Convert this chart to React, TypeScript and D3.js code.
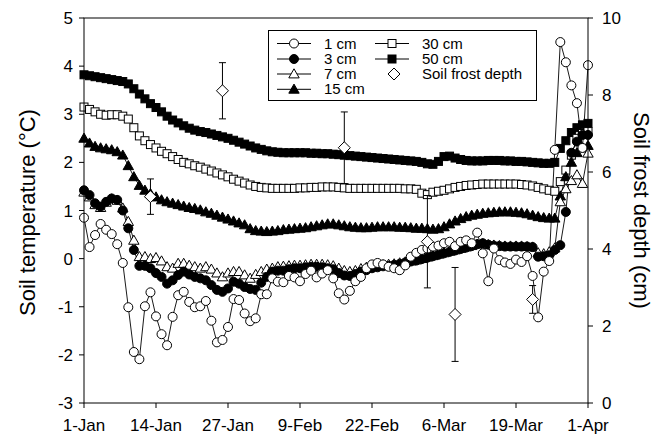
import React from "react";
import * as d3 from "d3";

// ---- data (daily values, day 0 = 1-Jan) ----
const tickLabels = ["1-Jan", "14-Jan", "27-Jan", "9-Feb", "22-Feb", "6-Mar", "19-Mar", "1-Apr"];
const tickDays = [0, 13, 26, 39, 52, 65, 78, 91];
const leftTicks = [-3, -2, -1, 0, 1, 2, 3, 4, 5];
const rightTicks = [0, 2, 4, 6, 8, 10];

const t1cm = [0.85,0.24,0.49,0.72,0.60,0.51,0.30,-0.09,-1.01,-1.94,
-2.09,-0.99,-0.70,-1.20,-1.57,-1.80,-1.21,-0.76,-0.69,-0.90,
-1.01,-0.99,-0.88,-1.29,-1.74,-1.69,-1.42,-0.84,-0.86,-1.14,
-1.30,-1.24,-0.74,-0.74,-0.41,-0.48,-0.49,-0.36,-0.39,-0.47,
-0.32,-0.25,-0.39,-0.31,-0.24,-0.41,-0.72,-0.85,-0.67,-0.47,
-0.38,-0.20,-0.12,-0.09,-0.12,-0.17,-0.20,-0.24,-0.14,0.04,
0.12,0.18,0.21,0.25,0.27,0.32,0.35,0.26,0.35,0.38,
0.32,0.54,0.11,-0.47,0.21,-0.03,-0.08,-0.11,-0.02,-0.07,
0.05,-0.36,-1.22,-0.27,-0.05,2.26,4.50,4.08,3.60,3.23,
2.30,4.02];

const t3cm = [1.42,1.32,1.15,1.08,1.18,1.25,1.22,1.00,0.63,0.18,
-0.15,-0.15,-0.20,-0.30,-0.38,-0.52,-0.45,-0.34,-0.27,-0.33,
-0.38,-0.41,-0.45,-0.55,-0.65,-0.69,-0.62,-0.48,-0.52,-0.59,
-0.63,-0.65,-0.50,-0.38,-0.27,-0.25,-0.25,-0.22,-0.20,-0.20,
-0.18,-0.17,-0.17,-0.18,-0.20,-0.22,-0.30,-0.35,-0.36,-0.32,
-0.27,-0.24,-0.20,-0.18,-0.16,-0.15,-0.13,-0.11,-0.08,-0.06,
-0.04,-0.01,0.02,0.05,0.08,0.11,0.14,0.17,0.20,0.23,
0.26,0.30,0.32,0.29,0.27,0.26,0.25,0.25,0.25,0.25,
0.25,0.24,0.04,0.05,0.07,0.18,0.28,0.97,2.20,2.43,
2.57,2.57];

const t7cm = [1.38,1.28,1.12,1.06,1.17,1.24,1.21,1.05,0.77,0.38,
0.04,0.04,0.00,0.02,-0.05,-0.17,-0.20,-0.10,-0.10,-0.14,
-0.17,-0.20,-0.17,-0.22,-0.30,-0.38,-0.30,-0.27,-0.27,-0.34,
-0.41,-0.33,-0.27,-0.22,-0.20,-0.17,-0.16,-0.15,-0.14,-0.14,
-0.13,-0.12,-0.12,-0.12,-0.13,-0.15,-0.20,-0.25,-0.27,-0.25,
-0.21,-0.18,-0.15,-0.14,-0.13,-0.12,-0.11,-0.09,-0.07,-0.05,
-0.03,0.00,0.03,0.06,0.09,0.12,0.15,0.18,0.21,0.24,
0.27,0.30,0.31,0.29,0.28,0.27,0.26,0.26,0.26,0.26,
0.25,0.24,0.12,0.10,0.14,0.22,1.18,1.45,1.62,1.74,
1.56,2.19];

const t15cm = [2.50,2.40,2.33,2.30,2.28,2.26,2.22,2.15,1.93,1.70,
1.52,1.42,1.35,1.28,1.22,1.18,1.15,1.12,1.09,1.06,
1.04,1.01,0.97,0.94,0.90,0.86,0.82,0.78,0.74,0.70,
0.62,0.58,0.57,0.56,0.57,0.58,0.60,0.61,0.62,0.63,
0.64,0.66,0.68,0.70,0.72,0.72,0.70,0.68,0.66,0.65,
0.64,0.64,0.65,0.66,0.66,0.66,0.66,0.65,0.65,0.64,
0.63,0.63,0.62,0.61,0.62,0.66,0.72,0.78,0.83,0.87,
0.90,0.92,0.94,0.95,0.96,0.97,0.97,0.97,0.96,0.95,
0.93,0.90,0.87,0.85,0.84,0.84,1.30,1.70,2.00,2.20,
2.30,2.35];

const t30cm = [3.15,3.10,3.05,3.00,2.98,2.99,2.99,2.96,2.90,2.72,
2.55,2.45,2.37,2.30,2.23,2.18,2.12,2.06,2.00,1.97,
1.93,1.90,1.86,1.82,1.78,1.74,1.70,1.65,1.61,1.57,
1.53,1.50,1.48,1.47,1.46,1.46,1.46,1.46,1.46,1.47,
1.47,1.48,1.48,1.49,1.49,1.49,1.48,1.47,1.46,1.46,
1.46,1.46,1.46,1.46,1.46,1.46,1.46,1.46,1.45,1.45,
1.44,1.36,1.33,1.38,1.40,1.42,1.45,1.48,1.50,1.52,
1.53,1.54,1.55,1.55,1.55,1.55,1.55,1.55,1.55,1.54,
1.53,1.51,1.48,1.45,1.42,1.40,1.60,1.84,2.15,2.50,
2.60,2.64];

const t50cm = [3.82,3.80,3.78,3.76,3.74,3.72,3.70,3.68,3.63,3.53,
3.42,3.32,3.22,3.14,3.05,2.96,2.88,2.82,2.76,2.71,
2.67,2.64,2.62,2.59,2.56,2.53,2.50,2.46,2.42,2.38,
2.34,2.30,2.27,2.24,2.22,2.21,2.20,2.20,2.20,2.20,
2.20,2.19,2.19,2.18,2.18,2.17,2.16,2.15,2.14,2.13,
2.12,2.11,2.10,2.09,2.08,2.07,2.06,2.05,2.04,2.03,
2.02,2.00,1.97,1.96,2.02,2.12,2.13,2.09,2.06,2.04,
2.03,2.03,2.03,2.04,2.04,2.04,2.03,2.03,2.02,2.02,
2.01,2.00,1.99,1.98,1.98,2.00,2.29,2.45,2.62,2.72,
2.78,2.81];

const frostDays = [12, 25, 47, 62, 67, 81];
const frostDepth = [5.36, 8.11, 6.63, 4.19, 2.30, 2.69];
const frostErr = [0.46, 0.73, 0.93, 1.20, 1.22, 0.36];

// ---- layout ----
const W = 659, H = 439;
const L = 84, R = 588, T = 18, B = 403;
const FONT = "'Liberation Sans', Arial, Helvetica, sans-serif";

const x = d3.scaleLinear().domain([0, 91]).range([L, R]);
const yL = d3.scaleLinear().domain([-3, 5]).range([B, T]);
const yR = d3.scaleLinear().domain([0, 10]).range([B, T]);

type Shape = "circle" | "square" | "triangle";

function Marker({ cx, cy, shape, filled }: { cx: number; cy: number; shape: Shape; filled: boolean }) {
  const fill = filled ? "#000" : "#fff";
  if (shape === "circle") return <circle cx={cx} cy={cy} r={4.5} fill={fill} stroke="#000" strokeWidth={1} />;
  if (shape === "square") return <rect x={cx - 4} y={cy - 4} width={8} height={8} fill={fill} stroke="#000" strokeWidth={1} />;
  const s = 5.2;
  return (
    <path
      d={`M${cx},${cy - s}L${cx + s},${cy + s * 0.75}L${cx - s},${cy + s * 0.75}Z`}
      fill={fill}
      stroke="#000"
      strokeWidth={1}
    />
  );
}

function Diamond({ cx, cy }: { cx: number; cy: number }) {
  const s = 6;
  return <path d={`M${cx},${cy - s}L${cx + s},${cy}L${cx},${cy + s}L${cx - s},${cy}Z`} fill="#fff" stroke="#000" strokeWidth={1} />;
}

const series: { name: string; values: number[]; shape: Shape; filled: boolean }[] = [
  { name: "50 cm", values: t50cm, shape: "square", filled: true },
  { name: "30 cm", values: t30cm, shape: "square", filled: false },
  { name: "15 cm", values: t15cm, shape: "triangle", filled: true },
  { name: "7 cm", values: t7cm, shape: "triangle", filled: false },
  { name: "3 cm", values: t3cm, shape: "circle", filled: true },
  { name: "1 cm", values: t1cm, shape: "circle", filled: false },
];

const legendItems: { name: string; shape: Shape | "diamond"; filled: boolean; col: number; row: number }[] = [
  { name: "1 cm", shape: "circle", filled: false, col: 0, row: 0 },
  { name: "3 cm", shape: "circle", filled: true, col: 0, row: 1 },
  { name: "7 cm", shape: "triangle", filled: false, col: 0, row: 2 },
  { name: "15 cm", shape: "triangle", filled: true, col: 0, row: 3 },
  { name: "30 cm", shape: "square", filled: false, col: 1, row: 0 },
  { name: "50 cm", shape: "square", filled: true, col: 1, row: 1 },
  { name: "Soil frost depth", shape: "diamond", filled: false, col: 1, row: 2 },
];

export default function App() {
  const line = d3
    .line<number>()
    .x((_, i) => x(i))
    .y((d) => yL(d));

  const colX = [277, 375];
  const rowY = [43.5, 59, 74, 89.3];

  return (
    <div style={{ position: "absolute", left: 0, top: 0 }}>
      <svg width={W} height={H} style={{ display: "block", background: "#fff" }} fontFamily={FONT}>
        <rect x={0} y={0} width={W} height={H} fill="#fff" />
        {series.map((s) => (
          <path key={s.name + "l"} d={line(s.values) || ""} fill="none" stroke="#000" strokeWidth={0.9} />
        ))}
        {series.map((s) => (
          <g key={s.name + "m"}>
            {s.values.map((v, i) => (
              <Marker key={i} cx={x(i)} cy={yL(v)} shape={s.shape} filled={s.filled} />
            ))}
          </g>
        ))}
        {frostDays.map((d, i) => {
          const cx = x(d);
          const y1 = yR(frostDepth[i] + frostErr[i]);
          const y2 = yR(frostDepth[i] - frostErr[i]);
          return (
            <g key={"f" + i}>
              <line x1={cx} x2={cx} y1={y1} y2={y2} stroke="#000" strokeWidth={1} />
              <line x1={cx - 3.5} x2={cx + 3.5} y1={y1} y2={y1} stroke="#000" strokeWidth={1} />
              <line x1={cx - 3.5} x2={cx + 3.5} y1={y2} y2={y2} stroke="#000" strokeWidth={1} />
              <Diamond cx={cx} cy={yR(frostDepth[i])} />
            </g>
          );
        })}
        <rect x={L} y={T} width={R - L} height={B - T} fill="none" stroke="#000" strokeWidth={1} />
        {tickDays.map((d, i) => (
          <g key={"xt" + i}>
            <line x1={x(d)} x2={x(d)} y1={B} y2={B + 5} stroke="#000" />
            <text x={x(d)} y={B + 28} textAnchor="middle" fontSize={17}>
              {tickLabels[i]}
            </text>
          </g>
        ))}
        {leftTicks.map((t) => (
          <g key={"yl" + t}>
            <line x1={L - 5} x2={L} y1={yL(t)} y2={yL(t)} stroke="#000" />
            <text x={L - 11} y={yL(t) + 6} textAnchor="end" fontSize={17}>
              {t}
            </text>
          </g>
        ))}
        {rightTicks.map((t) => (
          <g key={"yr" + t}>
            <line x1={R} x2={R + 5} y1={yR(t)} y2={yR(t)} stroke="#000" />
            <text x={R + 14} y={yR(t) + 6} textAnchor="start" fontSize={17}>
              {t}
            </text>
          </g>
        ))}
        <text transform={`translate(35,${(T + B) / 2 + 2}) rotate(-90)`} textAnchor="middle" fontSize={22}>
          Soil temperature (°C)
        </text>
        <text transform={`translate(634,${(T + B) / 2}) rotate(90)`} textAnchor="middle" fontSize={22}>
          Soil frost depth (cm)
        </text>
        <rect x={268.5} y={30.5} width={268} height={70} fill="#fff" stroke="#000" strokeWidth={1} />
        {legendItems.map((it) => {
          const x0 = colX[it.col];
          const cy = rowY[it.row];
          const mx = x0 + 17;
          return (
            <g key={"lg" + it.name}>
              {it.shape !== "diamond" && <line x1={x0} x2={x0 + 34} y1={cy} y2={cy} stroke="#000" strokeWidth={1} />}
              {it.shape === "diamond" ? (
                <Diamond cx={mx + 2} cy={cy} />
              ) : (
                <Marker cx={mx} cy={cy} shape={it.shape as Shape} filled={it.filled} />
              )}
              <text x={x0 + 47} y={cy + 5} fontSize={15}>
                {it.name}
              </text>
            </g>
          );
        })}
      </svg>
    </div>
  );
}
